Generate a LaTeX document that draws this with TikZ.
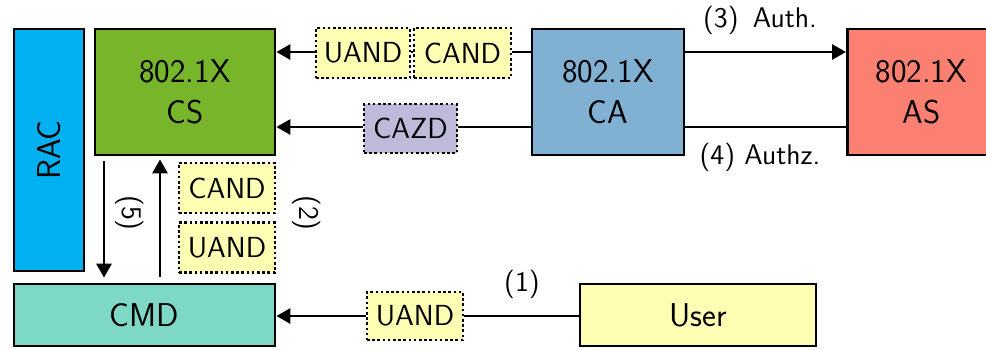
\documentclass[tikz,border=0pt]{standalone}
\usetikzlibrary{arrows.meta}
\renewcommand{\familydefault}{\sfdefault}
\definecolor{racblue}{RGB}{0,176,240}
\definecolor{csgreen}{RGB}{119,181,43}
\definecolor{cablue}{RGB}{128,177,211}
\definecolor{assalmon}{RGB}{251,128,114}
\definecolor{cmdteal}{RGB}{126,216,198}
\definecolor{useryellow}{RGB}{255,255,179}
\definecolor{msgyellow}{RGB}{255,255,179}
\definecolor{msgpurple}{RGB}{190,186,218}
\tikzset{
  bigbox/.style={draw=black, line width=1.4pt, inner sep=0pt, align=center,
    font=\fontsize{16.5}{20.5}\selectfont},
  msgbox/.style={draw=black, line width=1.3pt, dash pattern=on 1.3pt off 1.3pt, inner sep=0pt,
    minimum width=47pt, minimum height=25pt, font=\fontsize{14.5}{17}\selectfont},
  lbl/.style={inner sep=0pt, font=\fontsize{14.2}{17}\selectfont},
  conn/.style={line width=1.4pt, -{Triangle[length=7pt,width=7.5pt]}},
  plain/.style={line width=1.4pt}
}
\begin{document}
\begin{tikzpicture}[x=0.5pt,y=-0.5pt]
\clip (0,0) rectangle (986,349);
% main boxes
\node[bigbox, fill=racblue, minimum width=35pt, minimum height=121pt] (rac) at (49,150) {};
\node[font=\fontsize{16.5}{20}\selectfont, rotate=90, inner sep=0pt] (ractext) at (49,150) {RAC};
\node[bigbox, fill=csgreen, minimum width=90pt, minimum height=63pt] (cs) at (185,92) {802.1X\\CS};
\node[bigbox, fill=cablue, minimum width=76pt, minimum height=63pt] (ca) at (608,92) {802.1X\\CA};
\node[bigbox, fill=assalmon, minimum width=74pt, minimum height=63pt, anchor=west] (as) at (846,92) {802.1X\\AS};
\node[bigbox, fill=cmdteal, minimum width=130.5pt, minimum height=31pt] (cmd) at (144.5,315) {CMD};
\node[bigbox, fill=useryellow, minimum width=118pt, minimum height=31pt] (user) at (698,315) {User};
% message boxes
\node[msgbox, fill=msgyellow] (uand1) at (363,53) {UAND};
\node[msgbox, fill=msgyellow, minimum width=48.5pt] (cand1) at (462.5,53) {CAND};
\node[msgbox, fill=msgpurple, minimum width=46.5pt, minimum height=24.5pt] (cazd) at (410.5,128.5) {CAZD};
\node[msgbox, fill=msgyellow, minimum width=48pt] (cand2) at (227,188) {CAND};
\node[msgbox, fill=msgyellow, minimum width=48pt] (uand2) at (227,247.5) {UAND};
\node[msgbox, fill=msgyellow, minimum width=48pt, minimum height=24pt] (uand3) at (415,316) {UAND};
% connectors
\draw[plain] (ca.west |- 0,52) -- (cand1.east |- 0,52);
\draw[plain] (cand1.west |- 0,52) -- (uand1.east |- 0,52);
\draw[conn] (uand1.west |- 0,52) -- (cs.east |- 0,52);
\draw[plain] (ca.west |- 0,127) -- (cazd.east |- 0,127);
\draw[conn] (cazd.west |- 0,127) -- (cs.east |- 0,127);
\draw[conn] (ca.east |- 0,52) -- (as.west |- 0,52);
\draw[plain] (as.west |- 0,127) -- (ca.east |- 0,127);
\draw[conn, shorten <=2.5pt, shorten >=2.5pt] (cs.south -| 104,0) -- (cmd.north -| 104,0);
\draw[conn, shorten <=3pt, shorten >=1.5pt] (cmd.north -| 160,0) -- (cs.south -| 160,0);
\draw[plain] (user.west |- 0,316) -- (uand3.east |- 0,316);
\draw[conn] (uand3.west |- 0,316) -- (cmd.east |- 0,316);
% labels
\node[lbl] (l3) at (760,20) {(3)\hspace{0.5em}Auth.};
\node[lbl] (l4) at (760,157) {(4) Authz.};
\node[lbl, rotate=-90] (l5) at (130,213) {(5)};
\node[lbl, rotate=-90] (l2) at (307,213) {(2)};
\node[lbl] (l1) at (522,284) {(1)};
\end{tikzpicture}
\end{document}
